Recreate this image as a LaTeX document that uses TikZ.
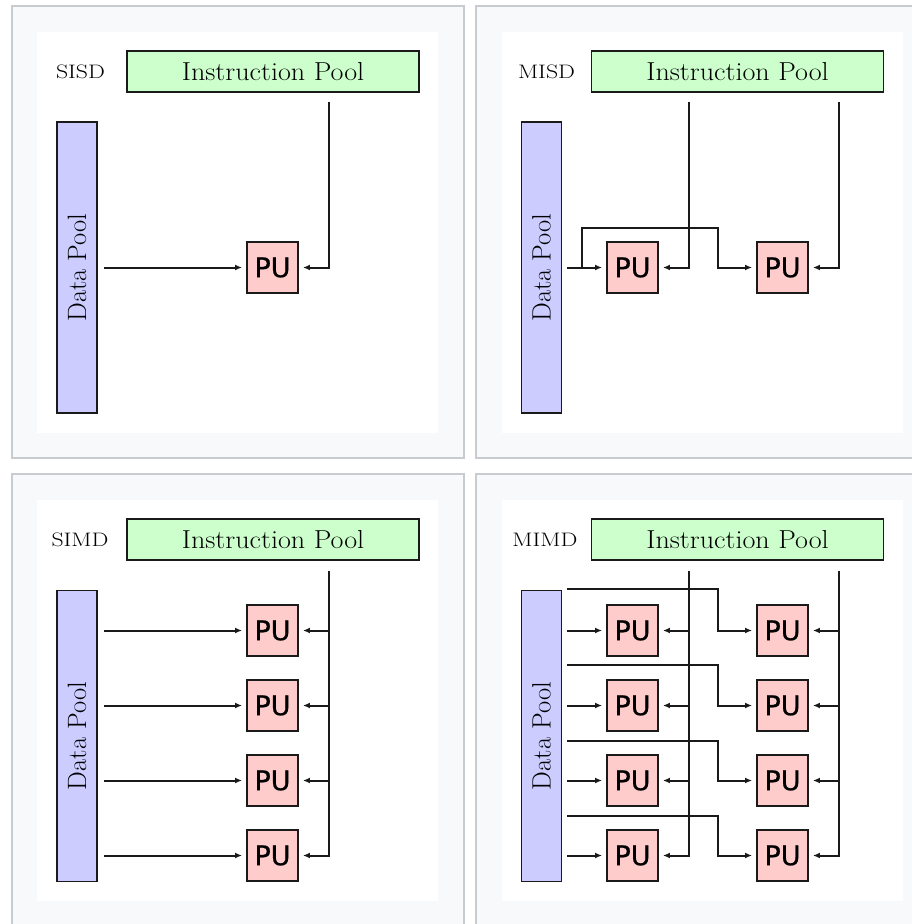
\documentclass[tikz,border=0pt]{standalone}
\usepackage{fontspec}
\usepackage{graphicx}
\newfontfamily\pufont[FakeBold=0.8]{DejaVu Sans}
\usetikzlibrary{arrows.meta}
\definecolor{instrgreen}{HTML}{CCFFCC}
\definecolor{datablue}{HTML}{CCCCFF}
\definecolor{pured}{HTML}{FFCCCC}
\definecolor{panelgray}{HTML}{F8F9FA}
\definecolor{panelline}{HTML}{C8CCD1}
\definecolor{wirecol}{HTML}{1A1A1A}
\begin{document}
\begin{tikzpicture}[x=1pt,y=-1pt,
 panel/.style={draw=panelline,fill=panelgray,line width=1.2pt},
 ipool/.style={draw=wirecol,fill=instrgreen,line width=1.9pt,minimum width=292pt,minimum height=41pt,inner sep=0pt,font=\fontsize{26}{30}\selectfont},
 dpool/.style={draw=wirecol,fill=datablue,line width=1.9pt,minimum width=291pt,minimum height=40pt,inner sep=0pt,rotate=90,font=\fontsize{26.5}{30}\selectfont},
 pu/.style={draw=wirecol,fill=pured,line width=1.9pt,minimum size=51pt,inner sep=0pt,font=\pufont\fontsize{27}{30}\selectfont},
 kind/.style={inner sep=0pt,font=\fontsize{19.5}{22}\selectfont},
 wire/.style={draw=wirecol,line width=2pt},
 feed/.style={wire,-{Latex[length=7pt,width=6pt]},shorten >=4pt}]
 \clip (0,0) rectangle (912,924);
 \fill[white] (0,0) rectangle (912,924);
 \draw[panel] (12,6) rectangle (464,458);
 \draw[panel] (476,6) rectangle (930,458);
 \draw[panel] (12,474) rectangle (464,940);
 \draw[panel] (476,474) rectangle (930,940);
 \fill[white] (37,32) rectangle (438,433);
 \fill[white] (502,32) rectangle (903,433);
 \fill[white] (37,500) rectangle (438,901);
 \fill[white] (502,500) rectangle (903,901);

 \node[kind] (sisd) at (80.5,72) {\scalebox{1.22}[1]{SISD}};
 \node[ipool] (sisdip) at (273,71.5) {\scalebox{1.08}[1]{Instruction Pool}};
 \node[dpool] (sisddp) at (77,267.5) {Data Pool};
 \node[pu] (sisdpu) at (272.5,267.5) {PU};
 \coordinate (sisdi) at ([xshift=30pt]sisdpu.east);
 \draw[feed] ([xshift=6pt]sisddp.south |- sisdpu) -- (sisdpu);
 \draw[feed] ([yshift=-9pt]sisdip.south -| sisdi) |- (sisdpu);

 \node[kind] (misd) at (546.5,72) {\scalebox{1.22}[1]{MISD}};
 \node[ipool] (misdip) at (737.5,71.5) {\scalebox{1.08}[1]{Instruction Pool}};
 \node[dpool] (misddp) at (541.5,267.5) {Data Pool};
 \node[pu] (misdpua) at (632.5,267.5) {PU};
 \node[pu] (misdpub) at (782.5,267.5) {PU};
 \coordinate (misdia) at ([xshift=30pt]misdpua.east);
 \coordinate (misdib) at ([xshift=30pt]misdpub.east);
 \coordinate (misdd) at ([xshift=5pt]misddp.south |- misdpua);
 \coordinate (misdup) at ([xshift=15pt]misdd);
 \coordinate (misddown) at ([xshift=-38pt]misdpub.west);
 \draw[feed] (misdd) -- (misdpua);
 \draw[feed] (misdup) -- ++(0,-39.5) -| (misddown) -- (misdpub);
 \draw[feed] ([yshift=-9pt]misdip.south -| misdia) |- (misdpua);
 \draw[feed] ([yshift=-9pt]misdip.south -| misdib) |- (misdpub);

 \node[kind] (simd) at (80,540) {\scalebox{1.22}[1]{SIMD}};
 \node[ipool] (simdip) at (273,539.5) {\scalebox{1.08}[1]{Instruction Pool}};
 \node[dpool] (simddp) at (77,736) {Data Pool};
 \node[pu] (simdpua) at (272.5,630.5) {PU};
 \node[pu] (simdpub) at (272.5,705.5) {PU};
 \node[pu] (simdpuc) at (272.5,780.5) {PU};
 \node[pu] (simdpud) at (272.5,855.5) {PU};
 \coordinate (simdi) at ([xshift=30pt]simdpua.east);
 \draw[feed] ([xshift=6pt]simddp.south |- simdpua) -- (simdpua);
 \draw[feed] ([xshift=6pt]simddp.south |- simdpub) -- (simdpub);
 \draw[feed] ([xshift=6pt]simddp.south |- simdpuc) -- (simdpuc);
 \draw[feed] ([xshift=6pt]simddp.south |- simdpud) -- (simdpud);
 \draw[feed] ([yshift=-10pt]simdip.south -| simdi) |- (simdpud);
 \draw[feed] (simdi |- simdpua) -- (simdpua);
 \draw[feed] (simdi |- simdpub) -- (simdpub);
 \draw[feed] (simdi |- simdpuc) -- (simdpuc);

 \node[kind] (mimd) at (545,540) {\scalebox{1.22}[1]{MIMD}};
 \node[ipool] (mimdip) at (737.5,539.5) {\scalebox{1.08}[1]{Instruction Pool}};
 \node[dpool] (mimddp) at (541.5,736) {Data Pool};
 \node[pu] (mimdpua1) at (632.5,630.5) {PU};
 \node[pu] (mimdpua2) at (632.5,705.5) {PU};
 \node[pu] (mimdpua3) at (632.5,780.5) {PU};
 \node[pu] (mimdpua4) at (632.5,855.5) {PU};
 \node[pu] (mimdpub1) at (782.5,630.5) {PU};
 \node[pu] (mimdpub2) at (782.5,705.5) {PU};
 \node[pu] (mimdpub3) at (782.5,780.5) {PU};
 \node[pu] (mimdpub4) at (782.5,855.5) {PU};
 \coordinate (mimdia) at ([xshift=30pt]mimdpua1.east);
 \coordinate (mimdib) at ([xshift=30pt]mimdpub1.east);
 \draw[feed] ([xshift=5pt]mimddp.south |- mimdpua1) -- (mimdpua1);
 \draw[feed] ([xshift=5pt]mimddp.south |- mimdpua2) -- (mimdpua2);
 \draw[feed] ([xshift=5pt]mimddp.south |- mimdpua3) -- (mimdpua3);
 \draw[feed] ([xshift=5pt]mimddp.south |- mimdpua4) -- (mimdpua4);
 \draw[feed] ([xshift=5pt]mimddp.south |- mimdpua1) ++(0,-41.5) -| ([xshift=-38pt]mimdpub1.west) -- (mimdpub1);
 \draw[feed] ([xshift=5pt]mimddp.south |- mimdpua2) ++(0,-40.5) -| ([xshift=-38pt]mimdpub2.west) -- (mimdpub2);
 \draw[feed] ([xshift=5pt]mimddp.south |- mimdpua3) ++(0,-39.5) -| ([xshift=-38pt]mimdpub3.west) -- (mimdpub3);
 \draw[feed] ([xshift=5pt]mimddp.south |- mimdpua4) ++(0,-40) -| ([xshift=-38pt]mimdpub4.west) -- (mimdpub4);
 \draw[feed] ([yshift=-10pt]mimdip.south -| mimdia) |- (mimdpua4);
 \draw[feed] (mimdia |- mimdpua1) -- (mimdpua1);
 \draw[feed] (mimdia |- mimdpua2) -- (mimdpua2);
 \draw[feed] (mimdia |- mimdpua3) -- (mimdpua3);
 \draw[feed] ([yshift=-10pt]mimdip.south -| mimdib) |- (mimdpub4);
 \draw[feed] (mimdib |- mimdpub1) -- (mimdpub1);
 \draw[feed] (mimdib |- mimdpub2) -- (mimdpub2);
 \draw[feed] (mimdib |- mimdpub3) -- (mimdpub3);
\end{tikzpicture}
\end{document}
